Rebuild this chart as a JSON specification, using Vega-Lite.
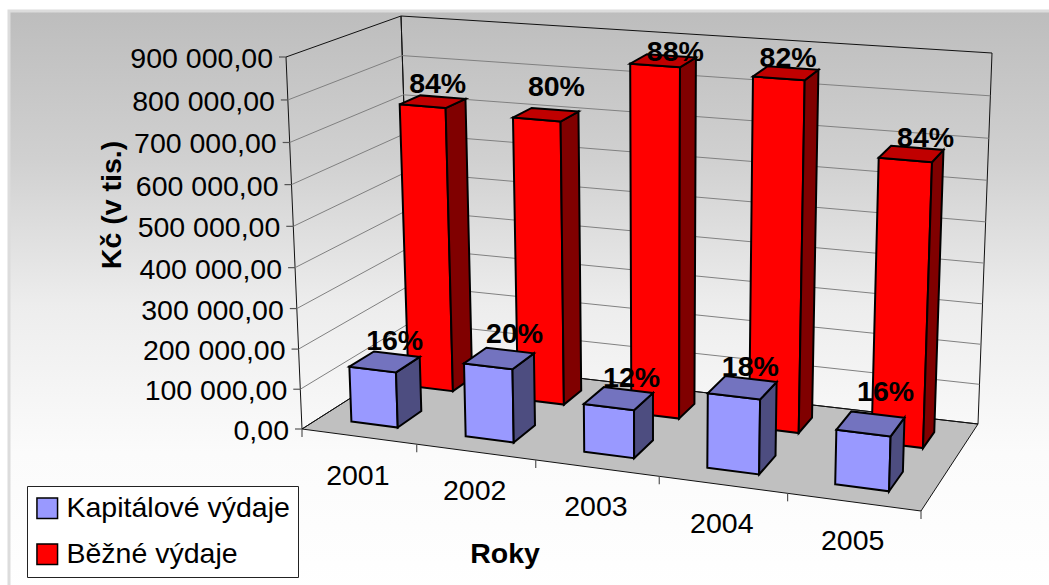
{
  "$schema": "https://vega.github.io/schema/vega-lite/v6.json",
  "width": 1049,
  "height": 585,
  "padding": 0,
  "autosize": {"type": "none"},
  "background": "#ffffff",
  "config": {"view": {"stroke": null}, "font": "Liberation Sans"},
  "datasets": {
    "bars": [
      {"year": 2001, "series": "Běžné výdaje", "value": 722000, "share": "84%"},
      {"year": 2002, "series": "Běžné výdaje", "value": 712000, "share": "80%"},
      {"year": 2003, "series": "Běžné výdaje", "value": 864000, "share": "88%"},
      {"year": 2004, "series": "Běžné výdaje", "value": 855000, "share": "82%"},
      {"year": 2005, "series": "Běžné výdaje", "value": 688000, "share": "84%"},
      {"year": 2001, "series": "Kapitálové výdaje", "value": 139000, "share": "16%"},
      {"year": 2002, "series": "Kapitálové výdaje", "value": 182000, "share": "20%"},
      {"year": 2003, "series": "Kapitálové výdaje", "value": 118000, "share": "12%"},
      {"year": 2004, "series": "Kapitálové výdaje", "value": 181000, "share": "18%"},
      {"year": 2005, "series": "Kapitálové výdaje", "value": 131000, "share": "16%"}
    ],
    "ticks": [
      {"value": 0, "label": "0,00"},
      {"value": 100000, "label": "100 000,00"},
      {"value": 200000, "label": "200 000,00"},
      {"value": 300000, "label": "300 000,00"},
      {"value": 400000, "label": "400 000,00"},
      {"value": 500000, "label": "500 000,00"},
      {"value": 600000, "label": "600 000,00"},
      {"value": 700000, "label": "700 000,00"},
      {"value": 800000, "label": "800 000,00"},
      {"value": 900000, "label": "900 000,00"}
    ],
    "years": [{"year": 2001}, {"year": 2002}, {"year": 2003}, {"year": 2004}, {"year": 2005}],
    "slots": [{"slot": 0}, {"slot": 1}, {"slot": 2}, {"slot": 3}, {"slot": 4}, {"slot": 5}],
    "planes": [{"plane": "floor"}, {"plane": "left"}, {"plane": "back"}]
  },
  "encoding": {
    "x": {"field": "px", "type": "quantitative", "scale": {"domain": [0, 1049], "nice": false, "zero": false}, "axis": null},
    "y": {"field": "py", "type": "quantitative", "scale": {"domain": [585, 0], "nice": false, "zero": false}, "axis": null}
  },
  "layer": [
    {
      "description": "Chart area with its vertical grey to white fade",
      "data": {"values": [{"area": "chart"}]},
      "transform": [
        {"calculate": "9", "as": "px"},
        {"calculate": "1060", "as": "px2"},
        {"calculate": "11", "as": "py"},
        {"calculate": "600", "as": "py2"}
      ],
      "mark": {
        "type": "rect",
        "stroke": "#dcdcdc",
        "strokeWidth": 3,
        "fill": {
          "gradient": "linear", "x1": 0, "y1": 0, "x2": 0, "y2": 1,
          "stops": [
            {"offset": 0, "color": "#bdbdbd"},
            {"offset": 0.25, "color": "#d0d0d0"},
            {"offset": 0.5, "color": "#ededed"},
            {"offset": 0.75, "color": "#fbfbfb"},
            {"offset": 1, "color": "#ffffff"}
          ]
        }
      },
      "encoding": {"x2": {"field": "px2"}, "y2": {"field": "py2"}}
    },
    {
      "description": "Floor and the two walls of the box",
      "data": {"name": "planes"},
      "transform": [
        {"calculate": "[0,1,2,3]", "as": "v"},
        {"flatten": ["v"]},
        {"calculate": "datum.plane=='floor' ? ((datum.v==1||datum.v==2)?1:0) : datum.plane=='left' ? 0 : ((datum.v==1||datum.v==2)?1:0)", "as": "U"},
        {"calculate": "datum.plane=='floor' ? (datum.v>=2?1:0) : datum.plane=='left' ? ((datum.v==1||datum.v==2)?1:0) : 1", "as": "W"},
        {"calculate": "datum.plane=='floor' ? 0 : (datum.v>=2?1:0)", "as": "H"},
        {"calculate": "(1-datum.U)*(1-datum.W)*(302-16*datum.H)+datum.U*(1-datum.W)*(921+12.5*datum.H)+(1-datum.U)*datum.W*(412-11*datum.H)+datum.U*datum.W*(978+14*datum.H)", "as": "px"},
        {"calculate": "(1-datum.U)*(1-datum.W)*(429-372*datum.H)+datum.U*(1-datum.W)*(511-397*datum.H)+(1-datum.U)*datum.W*(359-343*datum.H)+datum.U*datum.W*(424-371*datum.H)", "as": "py"}
      ],
      "mark": {"type": "line", "interpolate": "linear-closed", "stroke": "#111111", "strokeWidth": 1},
      "encoding": {
        "detail": {"field": "plane"},
        "order": {"field": "v", "type": "quantitative"},
        "fill": {"condition": {"test": "datum.plane=='floor'", "value": "#c0c0c0"}, "value": "transparent"}
      }
    },
    {
      "description": "Wall gridlines, running front-left to back corner to back-right",
      "data": {"name": "ticks"},
      "transform": [
        {"filter": "datum.value>0 && datum.value<900000"},
        {"calculate": "datum.value/900000*0.9575/(1-0.0425*datum.value/900000)", "as": "H"},
        {"calculate": "[0,1,2]", "as": "v"},
        {"flatten": ["v"]},
        {"calculate": "datum.v==0 ? 302-16*datum.H : datum.v==1 ? 412-11*datum.H : 978+14*datum.H", "as": "px"},
        {"calculate": "datum.v==0 ? 429-372*datum.H : datum.v==1 ? 359-343*datum.H : 424-371*datum.H", "as": "py"}
      ],
      "mark": {"type": "line", "stroke": "#808080", "strokeWidth": 1},
      "encoding": {
        "detail": {"field": "value"},
        "order": {"field": "v", "type": "quantitative"}
      }
    },
    {
      "description": "Value axis ticks",
      "data": {"name": "ticks"},
      "transform": [
        {"calculate": "datum.value/900000*0.9575/(1-0.0425*datum.value/900000)", "as": "H"},
        {"calculate": "302-16*datum.H", "as": "px"},
        {"calculate": "datum.px-7", "as": "px2"},
        {"calculate": "429-372*datum.H", "as": "py"}
      ],
      "mark": {"type": "rule", "stroke": "#555555", "strokeWidth": 1.2},
      "encoding": {"x2": {"field": "px2"}}
    },
    {
      "description": "Value axis labels",
      "data": {"name": "ticks"},
      "transform": [
        {"calculate": "datum.value/900000*0.9575/(1-0.0425*datum.value/900000)", "as": "H"},
        {"calculate": "302-16*datum.H", "as": "px"},
        {"calculate": "429-372*datum.H", "as": "py"}
      ],
      "mark": {"type": "text", "align": "right", "baseline": "middle", "dx": -13, "dy": 2, "fontSize": 28.5, "font": "Liberation Sans", "fill": "#000000"},
      "encoding": {"text": {"field": "label"}}
    },
    {
      "description": "Year axis ticks along the front floor edge",
      "data": {"name": "slots"},
      "transform": [
        {"calculate": "datum.slot/5", "as": "u"},
        {"calculate": "datum.u*0.91/(1-0.09*datum.u)", "as": "U"},
        {"calculate": "302+619*datum.U", "as": "px"},
        {"calculate": "429+82*datum.U", "as": "py"},
        {"calculate": "datum.py+8", "as": "py2"}
      ],
      "mark": {"type": "rule", "stroke": "#555555", "strokeWidth": 1.2},
      "encoding": {"y2": {"field": "py2"}}
    },
    {
      "description": "Year labels",
      "data": {"name": "years"},
      "transform": [
        {"calculate": "(datum.year-2001+0.5)/5", "as": "u"},
        {"calculate": "datum.u*0.91/(1-0.09*datum.u)", "as": "U"},
        {"calculate": "302+619*datum.U-1", "as": "px"},
        {"calculate": "429+82*datum.U+37", "as": "py"}
      ],
      "mark": {"type": "text", "align": "center", "baseline": "middle", "dy": 2, "fontSize": 28.5, "font": "Liberation Sans", "fill": "#000000"},
      "encoding": {"text": {"field": "year", "type": "nominal"}}
    },
    {
      "description": "Column faces, back series first, projected from year, series depth and value",
      "data": {"name": "bars"},
      "transform": [
        {"calculate": "(datum.year-2001+(datum.series=='Běžné výdaje' ? 0.305 : 0.28))/5", "as": "u0"},
        {"calculate": "(datum.year-2001+(datum.series=='Běžné výdaje' ? 0.715 : 0.69))/5", "as": "u1"},
        {"calculate": "datum.series=='Běžné výdaje' ? 0.673 : 0.165", "as": "w0"},
        {"calculate": "datum.series=='Běžné výdaje' ? 0.859 : 0.393", "as": "w1"},
        {"calculate": "['front','side','top']", "as": "face"},
        {"flatten": ["face"]},
        {"calculate": "[0,1,2,3]", "as": "v"},
        {"flatten": ["v"]},
        {"calculate": "datum.face=='side' ? datum.u1 : ((datum.v==0||datum.v==3) ? datum.u0 : datum.u1)", "as": "u"},
        {"calculate": "datum.face=='front' ? datum.w0 : datum.face=='side' ? ((datum.v==0||datum.v==3) ? datum.w0 : datum.w1) : (datum.v<2 ? datum.w0 : datum.w1)", "as": "W"},
        {"calculate": "(datum.face=='top'||datum.v>=2) ? datum.value/900000 : 0", "as": "h"},
        {"calculate": "datum.u*0.91/(1-0.09*datum.u)", "as": "U"},
        {"calculate": "datum.h*0.9575/(1-0.0425*datum.h)", "as": "H"},
        {"calculate": "(1-datum.U)*(1-datum.W)*(302-16*datum.H)+datum.U*(1-datum.W)*(921+12.5*datum.H)+(1-datum.U)*datum.W*(412-11*datum.H)+datum.U*datum.W*(978+14*datum.H)", "as": "px"},
        {"calculate": "(1-datum.U)*(1-datum.W)*(429-372*datum.H)+datum.U*(1-datum.W)*(511-397*datum.H)+(1-datum.U)*datum.W*(359-343*datum.H)+datum.U*datum.W*(424-371*datum.H)", "as": "py"},
        {"calculate": "datum.series+'|'+datum.face", "as": "shade"},
        {"calculate": "datum.year+'|'+datum.series+'|'+datum.face", "as": "poly"}
      ],
      "mark": {"type": "line", "interpolate": "linear-closed", "stroke": "#000000", "strokeWidth": 2, "strokeJoin": "miter"},
      "encoding": {
        "detail": {"field": "poly"},
        "order": {"field": "v", "type": "quantitative"},
        "fill": {
          "field": "shade",
          "type": "nominal",
          "legend": null,
          "scale": {
            "domain": ["Běžné výdaje|front", "Běžné výdaje|side", "Běžné výdaje|top", "Kapitálové výdaje|front", "Kapitálové výdaje|side", "Kapitálové výdaje|top"],
            "range": ["#ff0000", "#800000", "#c00000", "#9999ff", "#4d4d80", "#7373bf"]
          }
        }
      }
    },
    {
      "description": "Share labels set above each column top",
      "data": {"name": "bars"},
      "transform": [
        {"calculate": "(datum.year-2001+0.485)/5", "as": "u"},
        {"calculate": "datum.series=='Běžné výdaje' ? 0.791 : 0.279", "as": "W"},
        {"calculate": "datum.value/900000", "as": "h"},
        {"calculate": "datum.u*0.91/(1-0.09*datum.u)", "as": "U"},
        {"calculate": "datum.h*0.9575/(1-0.0425*datum.h)", "as": "H"},
        {"calculate": "({'Běžné výdaje':{2001:5,2002:11,2003:13,2004:3.5,2005:16},'Kapitálové výdaje':{2001:10,2002:15.5,2003:13,2004:8,2005:15}})[datum.series][datum.year]", "as": "nudgeX"},
        {"calculate": "({'Běžné výdaje':{2001:-18.5,2002:-28,2003:-9,2004:-16,2005:-16},'Kapitálové výdaje':{2001:-23,2002:-26,2003:-23,2004:-23,2005:-34}})[datum.series][datum.year]", "as": "nudgeY"},
        {"calculate": "datum.nudgeX+(1-datum.U)*(1-datum.W)*(302-16*datum.H)+datum.U*(1-datum.W)*(921+12.5*datum.H)+(1-datum.U)*datum.W*(412-11*datum.H)+datum.U*datum.W*(978+14*datum.H)", "as": "px"},
        {"calculate": "datum.nudgeY+(1-datum.U)*(1-datum.W)*(429-372*datum.H)+datum.U*(1-datum.W)*(511-397*datum.H)+(1-datum.U)*datum.W*(359-343*datum.H)+datum.U*datum.W*(424-371*datum.H)", "as": "py"}
      ],
      "mark": {"type": "text", "align": "center", "baseline": "middle", "dy": 2, "fontSize": 28.5, "fontWeight": "bold", "font": "Liberation Sans", "fill": "#000000"},
      "encoding": {"text": {"field": "share"}}
    },
    {
      "description": "Value axis title",
      "data": {"values": [{"title": "Kč (v tis.)"}]},
      "transform": [
        {"calculate": "112", "as": "px"},
        {"calculate": "205", "as": "py"}
      ],
      "mark": {"type": "text", "angle": 270, "align": "center", "baseline": "middle", "fontSize": 28.5, "fontWeight": "bold", "font": "Liberation Sans", "fill": "#000000"},
      "encoding": {"text": {"field": "title"}}
    },
    {
      "description": "Year axis title",
      "data": {"values": [{"title": "Roky"}]},
      "transform": [
        {"calculate": "505", "as": "px"},
        {"calculate": "554", "as": "py"}
      ],
      "mark": {"type": "text", "align": "center", "baseline": "middle", "fontSize": 28.5, "fontWeight": "bold", "font": "Liberation Sans", "fill": "#000000"},
      "encoding": {"text": {"field": "title"}}
    },
    {
      "description": "Carries the series legend; the columns themselves are drawn as polygons",
      "data": {"name": "bars"},
      "mark": {"type": "square", "opacity": 0},
      "encoding": {
        "color": {
          "field": "series",
          "type": "nominal",
          "scale": {"domain": ["Kapitálové výdaje", "Běžné výdaje"], "range": ["#9999ff", "#ff0000"]},
          "legend": {
            "orient": "none", "legendX": 27, "legendY": 486, "title": null,
            "fillColor": "#ffffff", "strokeColor": "#222222", "padding": 8,
            "symbolType": "square", "symbolSize": 425, "symbolStrokeColor": "#000000", "symbolStrokeWidth": 1.5, "symbolOpacity": 1, "symbolOffset": -2,
            "labelFont": "Liberation Sans", "labelFontSize": 28.5, "labelColor": "#000000", "labelOffset": 5, "labelLimit": 400,
            "rowPadding": 17, "zindex": 1
          }
        }
      }
    }
  ]
}
